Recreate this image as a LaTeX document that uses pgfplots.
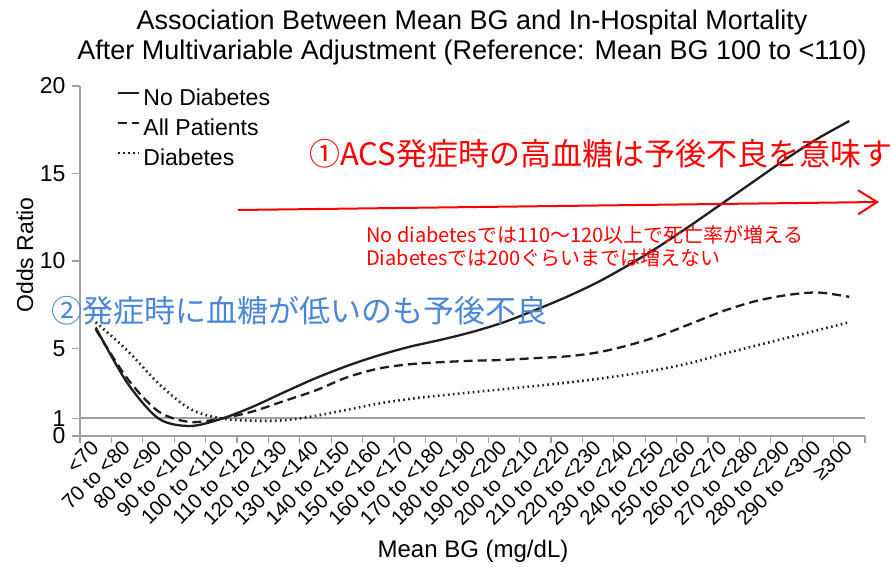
\documentclass[border=0pt]{standalone}
\usepackage{pgfplots}
\pgfplotsset{compat=1.18}
\usepackage{fontspec}
\setmainfont{Liberation Sans}
\newfontfamily\cjk{Noto Sans CJK JP}
\usetikzlibrary{arrows.meta}
\definecolor{axgray}{RGB}{160,160,160}
\definecolor{curve}{RGB}{30,30,30}
\definecolor{annoblue}{RGB}{74,134,214}
\begin{document}
\begin{tikzpicture}
\useasboundingbox (0pt,0pt) rectangle (892pt,567pt);
\begin{axis}[
  at={(80pt,131pt)}, anchor=south west,
  scale only axis, width=785pt, height=350pt,
  xmin=-0.5, xmax=24.5, ymin=0, ymax=20,
  axis x line*=bottom, axis y line*=left,
  axis line style={draw=axgray, line width=1.3pt, -},
  xtick={0,...,24},
  xticklabels={{<70},{70 to <80},{80 to <90},{90 to <100},{100 to <110},{110 to <120},{120 to <130},{130 to <140},{140 to <150},{150 to <160},{160 to <170},{170 to <180},{180 to <190},{190 to <200},{200 to <210},{210 to <220},{220 to <230},{230 to <240},{240 to <250},{250 to <260},{260 to <270},{270 to <280},{280 to <290},{290 to <300},{≥300}},
  major x tick style={draw=none},
  minor xtick={-0.5,0.5,...,24.5},
  ytick={0,1,5,10,15,20},
  tick align=outside,
  tick style={draw=axgray, line width=1.2pt},
  major tick length=8pt, minor tick length=7pt,
  x tick label style={rotate=45, anchor=east, font=\fontsize{20.5}{20.5}\selectfont, inner sep=1pt},
  y tick label style={font=\fontsize{23}{23}\selectfont, xshift=-3pt},
  /pgf/number format/assume math mode=true,
  clip=false,
  legend style={draw=none, fill=none, at={(0.047,0.994)}, anchor=north west,
    inner sep=0pt, outer sep=0pt,
    font=\fontsize{23}{23}\selectfont, row sep=8pt, column sep=3pt,
    nodes={inner sep=0pt, text height=17pt, text depth=5pt}},
  legend cell align=left,
  legend image code/.code={\draw[#1] (0pt,6pt) -- (21pt,6pt);},
]
\draw[axgray, line width=2pt] (axis cs:-0.5,1) -- (axis cs:24.5,1);
\addplot[curve, line width=2.3pt, smooth] coordinates {
(0,6.2) (1,3.05) (2,1.0) (3,0.57) (4,0.98) (5,1.67) (6,2.5) (7,3.3) (8,4.0) (9,4.6)
(10,5.1) (11,5.5) (12,5.95) (13,6.5) (14,7.2) (15,7.95) (16,8.8) (17,9.8) (18,10.9)
(19,12.1) (20,13.35) (21,14.6) (22,15.85) (23,17.0) (24,18.0)};
\addlegendentry{No Diabetes}
\addplot[curve, line width=2.3pt, dash pattern=on 9pt off 5pt, smooth] coordinates {
(0,6.1) (1,3.3) (2,1.4) (3,0.8) (4,1.0) (5,1.4) (6,2.0) (7,2.6) (8,3.35) (9,3.85)
(10,4.1) (11,4.22) (12,4.3) (13,4.35) (14,4.45) (15,4.55) (16,4.78) (17,5.2) (18,5.75)
(19,6.45) (20,7.15) (21,7.7) (22,8.05) (23,8.2) (24,7.95)};
\addlegendentry{All Patients}
\addplot[curve, line width=2.6pt, dash pattern=on 1.6pt off 3.4pt, smooth] coordinates {
(0,6.5) (1,4.9) (2,3.0) (3,1.55) (4,1.0) (5,0.88) (6,0.9) (7,1.15) (8,1.5) (9,1.85)
(10,2.12) (11,2.32) (12,2.5) (13,2.68) (14,2.86) (15,3.05) (16,3.27) (17,3.52) (18,3.82)
(19,4.2) (20,4.7) (21,5.15) (22,5.6) (23,6.05) (24,6.5)};
\addlegendentry{Diabetes}
\end{axis}
% titles and labels
\node[anchor=base, font=\fontsize{27}{27}\selectfont] at (472pt,537pt) {Association Between Mean BG and In-Hospital Mortality};
\node[anchor=base, font=\fontsize{27}{27}\selectfont] at (472pt,507pt) {After Multivariable Adjustment (Reference: Mean BG 100 to <110)};
\node[anchor=base, font=\fontsize{24}{24}\selectfont] at (473pt,9pt) {Mean BG (mg/dL)};
\node[rotate=90, anchor=base, font=\fontsize{23}{23}\selectfont] at (33pt,312pt) {Odds Ratio};
% annotations
\node[anchor=west, text=red, inner sep=0pt, font=\cjk\fontsize{31}{31}\selectfont] at (309pt,413pt) {①ACS発症時の高血糖は予後不良を意味す};
\draw[red, line width=2pt, -{Straight Barb[length=19pt, width=24pt, line width=2pt]}] (238pt,357pt) -- (879pt,365pt);
\node[anchor=west, text=red, inner sep=0pt, font=\cjk\fontsize{20}{20}\selectfont] at (366pt,332pt) {No diabetesでは110～120以上で死亡率が増える};
\node[anchor=west, text=red, inner sep=0pt, font=\cjk\fontsize{20}{20}\selectfont] at (366pt,309pt) {Diabetesでは200ぐらいまでは増えない};
\node[anchor=west, text=annoblue, inner sep=0pt, font=\cjk\fontsize{31}{31}\selectfont] at (51pt,256pt) {②発症時に血糖が低いのも予後不良};
\end{tikzpicture}
\end{document}
